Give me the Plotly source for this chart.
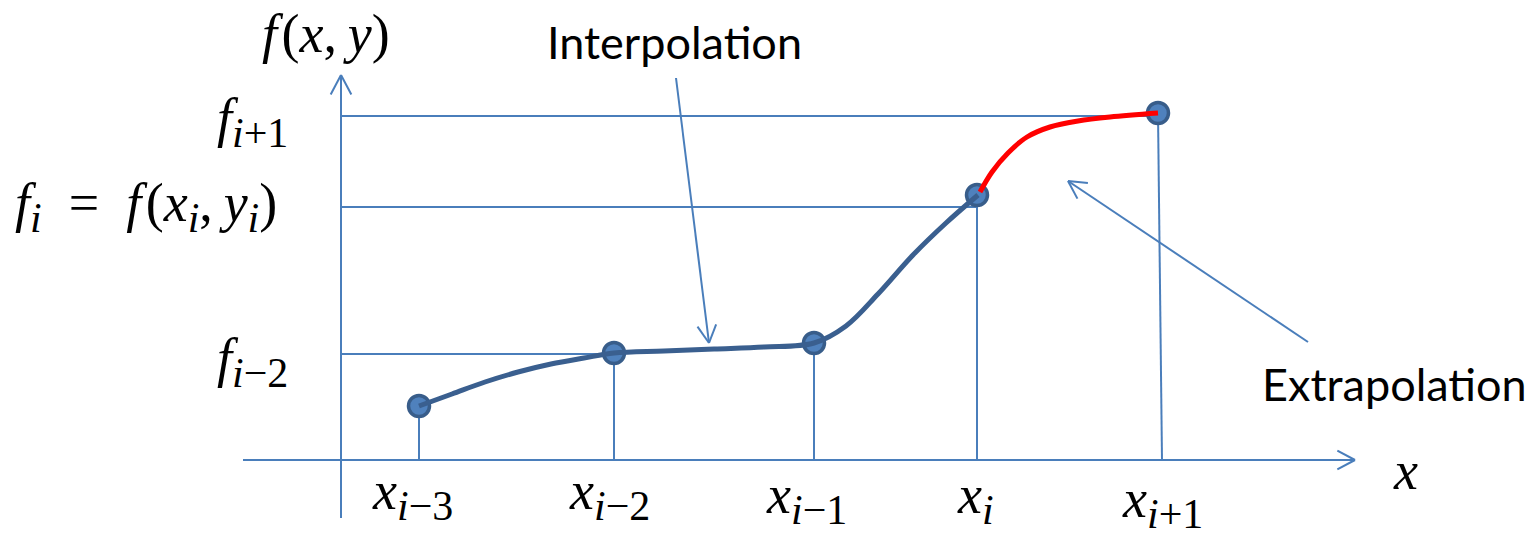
import numpy as np
import plotly.graph_objects as go

W, H = 1533, 534


def sub(s):
    return f"<sub><span style='font-size:42px'>{s}</span></sub>"


# Sample nodes (x_{i-3} ... x_{i+1}) and their function values
node_x = [419, 614, 814, 977, 1158]
node_f = [128, 181, 191, 339, 421]
node_labels = ["<i>x</i>" + sub("<i>i</i>−3"), "<i>x</i>" + sub("<i>i</i>−2"),
               "<i>x</i>" + sub("<i>i</i>−1"), "<i>x</i>" + sub("<i>i</i>"),
               "<i>x</i>" + sub("<i>i</i>+1")]

# Interpolating curve through x_{i-3} .. x_i
interp_x = [419, 452, 485, 518, 551, 584, 614, 664, 714, 764, 814, 846, 878, 913, 946, 978]
interp_f = [128, 140, 152, 162, 170, 176, 181, 183, 185, 187, 191, 208, 240, 279, 311, 339]

# Extrapolated piece from x_i to x_{i+1}
extrap_x = [980, 992, 1008, 1027, 1050, 1078, 1110, 1158]
extrap_f = [342, 362, 381, 397, 407, 413, 417, 421]

# Reference levels marked on the f axis
level_f = [418, 327, 180]
level_end_x = [1158, 977, 614]
level_labels = ["<i>f</i>" + sub("<i>i</i>+1"),
                "<i>f</i>" + sub("<i>i</i>") + "\u2002=\u2002<i>f</i>\u200a(<i>x</i>" + sub("<i>i</i>")
                + ",\u2009<i>y</i>" + sub("<i>i</i>") + ")",
                "<i>f</i>" + sub("<i>i</i>−2")]

AX_BLUE = "#4a7ebb"
CURVE_BLUE = "#3a5f8f"
MATH_FONT = "Liberation Serif, DejaVu Serif, serif"
TEXT_FONT = "Lato"
MATH_SIZE = 54

ORIGIN_X, ORIGIN_F = 341, 74

fig = go.Figure()


def seg(x0, y0, x1, y1, color=AX_BLUE, width=2):
    fig.add_trace(go.Scatter(x=[x0, x1], y=[y0, y1], mode="lines",
                             line=dict(color=color, width=width),
                             hoverinfo="skip"))


def open_arrow(x0, y0, x1, y1, head=20, angle=28, color=AX_BLUE, width=2):
    """Line from (x0,y0) to (x1,y1) ending in an open V head."""
    seg(x0, y0, x1, y1, color, width)
    d = np.array([x0 - x1, y0 - y1], dtype=float)
    d /= np.hypot(*d)
    for s in (1, -1):
        a = np.radians(angle) * s
        r = np.array([d[0] * np.cos(a) - d[1] * np.sin(a),
                      d[0] * np.sin(a) + d[1] * np.cos(a)])
        seg(x1, y1, x1 + head * r[0], y1 + head * r[1], color, width)


# Coordinate axes
open_arrow(243, ORIGIN_F, 1355, ORIGIN_F, head=20)
open_arrow(ORIGIN_X, 16, ORIGIN_X, 459, head=22)

# Horizontal reference levels
for fv, xe in zip(level_f, level_end_x):
    seg(ORIGIN_X, fv, xe, fv)

# Drop lines from each node to the x axis
drop_foot = [419, 614, 814, 977, 1162]
for xn, fn, xf in zip(node_x, node_f, drop_foot):
    seg(xn, fn, xf, ORIGIN_F)

# Nodes
fig.add_trace(go.Scatter(x=node_x, y=node_f, mode="markers",
                         marker=dict(size=21, color="#4f81bd",
                                     line=dict(color="#385d8a", width=3.5)),
                         hoverinfo="skip"))

# Curves
fig.add_trace(go.Scatter(x=interp_x, y=interp_f, mode="lines",
                         line=dict(color=CURVE_BLUE, width=5, shape="spline", smoothing=1.0),
                         hoverinfo="skip"))
fig.add_trace(go.Scatter(x=extrap_x, y=extrap_f, mode="lines",
                         line=dict(color="#ff0000", width=5, shape="spline", smoothing=1.0),
                         hoverinfo="skip"))

# Pointer arrows
open_arrow(676, 456, 709, 191, head=20)
open_arrow(1308, 192, 1068, 353, head=20)

ann = []
# Axis titles
ann.append(dict(x=326, y=500, text="<i>f</i>\u200a(<i>x</i>,\u2009<i>y</i>)",
                font=dict(family=MATH_FONT, size=MATH_SIZE, color="black")))
ann.append(dict(x=1405, y=63, text="<i>x</i>",
                font=dict(family=MATH_FONT, size=MATH_SIZE, color="black")))

# Level labels on the f axis
for fv, lab, ypos, xr in zip(level_f, level_labels, [412, 327, 172], [290, 279, 290]):
    ann.append(dict(x=xr, y=ypos, text=lab, xanchor="right",
                    font=dict(family=MATH_FONT, size=MATH_SIZE, color="black")))

# Node labels under the x axis
for xn, lab, dx, ypos in zip(node_x, node_labels, [-7, -5, -8, -2, 4], [39, 39, 35, 35, 31]):
    ann.append(dict(x=xn + dx, y=ypos, text=lab,
                    font=dict(family=MATH_FONT, size=MATH_SIZE, color="black")))

# Callout texts
ann.append(dict(x=674, y=492, text="Interpolation",
                font=dict(family=TEXT_FONT, size=45, color="black")))
ann.append(dict(x=1394, y=150, text="Extrapolation",
                font=dict(family=TEXT_FONT, size=45, color="black")))

for a in ann:
    a.update(xref="x", yref="y", showarrow=False)

fig.update_layout(
    width=W, height=H,
    margin=dict(l=0, r=0, t=0, b=0),
    paper_bgcolor="white", plot_bgcolor="white",
    showlegend=False,
    xaxis=dict(range=[0, W], visible=False, fixedrange=True),
    yaxis=dict(range=[0, H], visible=False, fixedrange=True),
    annotations=ann,
)

fig.write_html("out.html")
